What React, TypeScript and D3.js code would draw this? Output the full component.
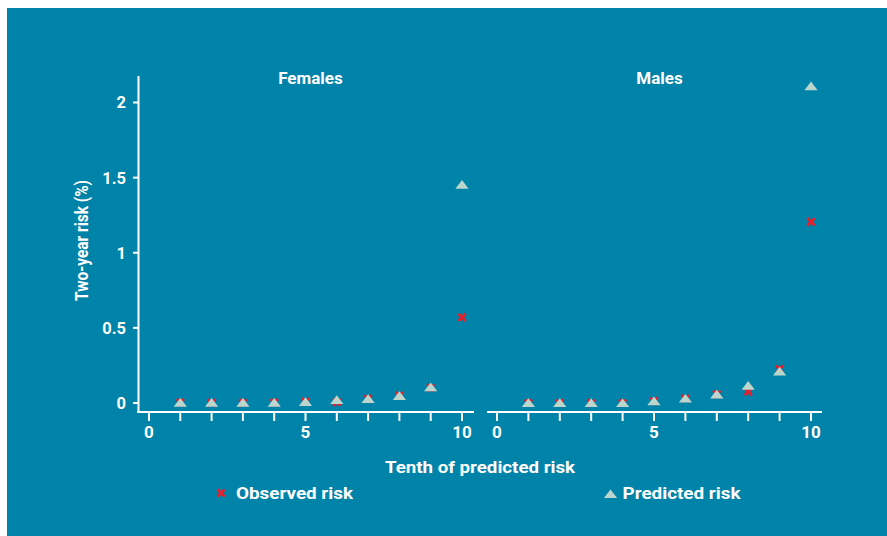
import React from "react";
import * as d3 from "d3";

const tenths = [1, 2, 3, 4, 5, 6, 7, 8, 9, 10];
const femalesObserved = [0.002, 0.001, 0.001, 0.003, 0.01, 0.006, 0.027, 0.05, 0.1, 0.57];
const femalesPredicted = [0.002, 0.002, 0.002, 0.002, 0.008, 0.021, 0.028, 0.048, 0.105, 1.453];
const malesObserved = [0.0, 0.0, 0.0, 0.0, 0.013, 0.03, 0.057, 0.075, 0.225, 1.205];
const malesPredicted = [0.001, 0.001, 0.001, 0.0, 0.012, 0.03, 0.057, 0.115, 0.21, 2.109];
const xTicks = [0, 1, 2, 3, 4, 5, 6, 7, 8, 9, 10];
const xTickLabels = [0, 5, 10];
const yTicks = [0, 0.5, 1, 1.5, 2];
const panelTitles = ["Females", "Males"];

const W = 887;
const H = 536;
const BG = "#0083a9";
const TRI = "#bdd6cd";
const RED = "#e5202a";
const FONT = "Roboto, 'DejaVu Sans', sans-serif";

const y = d3.scaleLinear().domain([0, 2]).range([403, 102.5]);
const panels = [
  { title: panelTitles[0], obs: femalesObserved, pred: femalesPredicted, x: d3.scaleLinear().domain([0, 10]).range([149, 462]), lineX: [137, 474] },
  { title: panelTitles[1], obs: malesObserved, pred: malesPredicted, x: d3.scaleLinear().domain([0, 10]).range([497, 811]), lineX: [487, 822] },
];
const axisY = 412;

const triPath = "M0,-4.6L6.6,4.1L-6.6,4.1Z";
const xPath = "M-3.6,-3.6L3.6,3.6M-3.6,3.6L3.6,-3.6";

const fmt = (v: number) => (v === 0 ? "0" : d3.format("~g")(v));

export default function App() {
  return (
    <svg width={W} height={H} style={{ position: "absolute", left: 0, top: 0 }} fontFamily={FONT}>
      <rect x={0} y={0} width={W} height={H} fill="#ffffff" />
      <rect x={7} y={8} width={W - 7} height={H - 8} fill={BG} />
      {/* y axis */}
      <line x1={138.5} x2={138.5} y1={76} y2={axisY + 1} stroke="#fff" strokeWidth={2} />
      {yTicks.map((t) => (
        <g key={t}>
          <line x1={133} x2={138} y1={y(t)} y2={y(t)} stroke="#fff" strokeWidth={2} />
          <text x={126} y={y(t)} dy="0.36em" textAnchor="end" fill="#fff" fontSize={16.5} fontWeight={700}>
            {fmt(t)}
          </text>
        </g>
      ))}
      <text
        transform={`translate(87.5,240.5) rotate(-90)`}
        textAnchor="middle"
        fill="#fff"
        fontSize={17.5}
        fontWeight={700}
        textLength={121}
        lengthAdjust="spacingAndGlyphs"
      >
        Two-year risk (%)
      </text>
      {panels.map((p, pi) => (
        <g key={pi}>
          <text x={(p.lineX[0] + p.lineX[1]) / 2 + 5} y={84} textAnchor="middle" fill="#fff" fontSize={17} fontWeight={700}>
            {p.title}
          </text>
          <line x1={p.lineX[0]} x2={p.lineX[1]} y1={axisY} y2={axisY} stroke="#fff" strokeWidth={2} />
          {xTicks.map((t) => (
            <line key={t} x1={p.x(t)} x2={p.x(t)} y1={axisY} y2={axisY + 9} stroke="#fff" strokeWidth={2} />
          ))}
          {xTickLabels.map((t) => (
            <text key={t} x={p.x(t)} y={438} textAnchor="middle" fill="#fff" fontSize={17} fontWeight={700}>
              {t}
            </text>
          ))}
          {tenths.map((t, i) => (
            <path key={"o" + t} d={xPath} transform={`translate(${p.x(t)},${y(p.obs[i])})`} stroke={RED} strokeWidth={2.8} fill="none" />
          ))}
          {tenths.map((t, i) => (
            <path key={"p" + t} d={triPath} transform={`translate(${p.x(t)},${y(p.pred[i])})`} fill={TRI} />
          ))}
        </g>
      ))}
      <text x={480} y={472.5} textAnchor="middle" fill="#fff" fontSize={17} fontWeight={700} textLength={190} lengthAdjust="spacingAndGlyphs">
        Tenth of predicted risk
      </text>
      <path d={xPath} transform="translate(221,493)" stroke={RED} strokeWidth={2.8} fill="none" />
      <text x={236} y={499.3} fill="#fff" fontSize={17} fontWeight={700} textLength={117} lengthAdjust="spacingAndGlyphs">
        Observed risk
      </text>
      <path d={triPath} transform="translate(610.5,494)" fill={TRI} />
      <text x={622.5} y={499.3} fill="#fff" fontSize={17} fontWeight={700} textLength={118} lengthAdjust="spacingAndGlyphs">
        Predicted risk
      </text>
    </svg>
  );
}
